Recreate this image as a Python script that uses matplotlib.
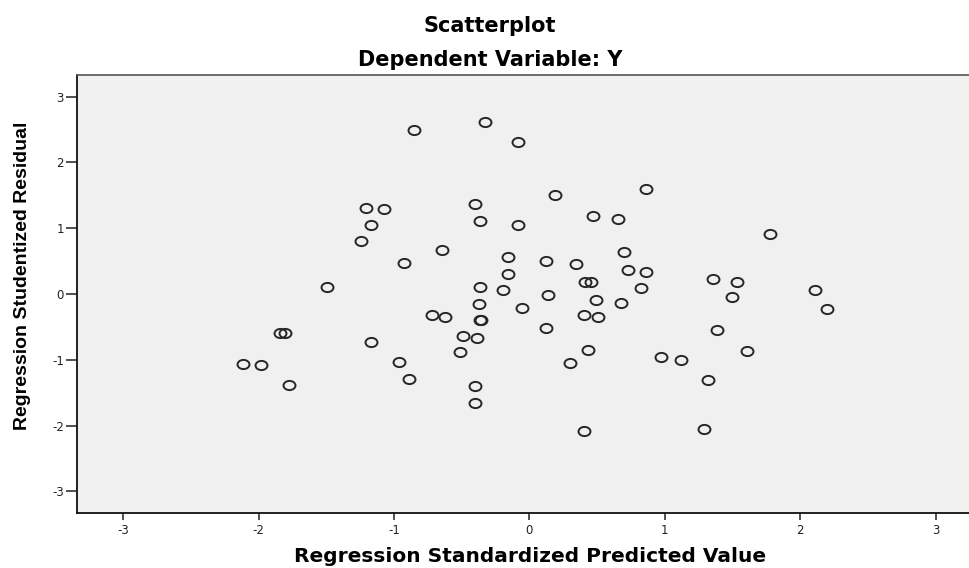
import numpy as np
import matplotlib
matplotlib.use("Agg")
import matplotlib.pyplot as plt
from matplotlib.path import Path

# Regression standardized predicted value (x) and studentized residual (y)
pred = [-0.851, -0.327, -0.081, 0.190, 0.861, -1.207, -1.075, -0.401, -1.170, -1.242,
        -0.364, -0.081, 0.470, 0.655, 1.779, -0.644, -0.927, -0.155, 0.125, 0.345,
        0.699, -0.155, 0.726, 0.861, -1.491, -0.364, -0.192, 0.136, 0.407, 0.452,
        0.822, 1.352, 1.535, 1.498, 2.111, 2.197, -0.371, -0.056, 0.492, 0.677,
        0.406, 0.509, -0.720, -0.620, -0.368, -0.360, -0.494, -0.390, 0.125, -1.845,
        -1.803, -1.173, -0.509, 0.433, 1.385, 1.607, -2.115, -1.980, -0.964, 0.300,
        0.972, 1.117, -1.773, -0.890, -0.401, 1.315, -0.401, 0.406, 1.291]
resid = [2.492, 2.614, 2.304, 1.509, 1.600, 1.312, 1.286, 1.368, 1.043, 0.810,
         1.109, 1.043, 1.190, 1.140, 0.906, 0.669, 0.476, 0.556, 0.495, 0.456,
         0.643, 0.304, 0.359, 0.334, 0.103, 0.103, 0.065, -0.011, 0.182, 0.182,
         0.091, 0.222, 0.184, -0.053, 0.061, -0.223, -0.147, -0.219, -0.091, -0.132,
         -0.319, -0.345, -0.325, -0.350, -0.401, -0.401, -0.634, -0.669, -0.512, -0.593,
         -0.593, -0.729, -0.877, -0.847, -0.547, -0.862, -1.059, -1.079, -1.029, -1.055,
         -0.957, -1.003, -1.378, -1.298, -1.404, -1.302, -1.655, -2.088, -2.059]

xticks = [-3, -2, -1, 0, 1, 2, 3]
yticks = [-3, -2, -1, 0, 1, 2, 3]

W, H = 969, 568
fig = plt.figure(figsize=(W / 100, H / 100), dpi=100)
fig.patch.set_facecolor("white")

left, right, top, bottom = 77, 969, 75, 513
ax = fig.add_axes([left / W, 1 - bottom / H, (right - left) / W, (bottom - top) / H])
ax.set_facecolor("#f0f0f0")

# slightly wide ellipse marker (the reference is horizontally stretched)
uc = Path.unit_circle()
ell = Path(uc.vertices * np.array([1.3, 1.0]), uc.codes)

ax.plot(pred, resid, linestyle="none", marker=ell, markersize=8.6,
        markerfacecolor="none", markeredgecolor="#262626", markeredgewidth=1.4)

ax.set_xlim(-3.34, 3.245)
ax.set_ylim(-3.33, 3.33)
ax.set_xticks(xticks)
ax.set_yticks(yticks)
ax.set_xticklabels([str(t) for t in xticks], fontsize=8.5, family="DejaVu Sans", color="#222222")
ax.set_yticklabels([str(t) for t in yticks], fontsize=8.5, family="DejaVu Sans", color="#222222")
ax.tick_params(axis="x", direction="out", length=5, width=1.1, pad=3, color="#222222")
ax.tick_params(axis="y", direction="out", length=8, width=1.1, pad=1.5, color="#222222")

for s in ["left", "bottom"]:
    ax.spines[s].set_color("#111111")
    ax.spines[s].set_linewidth(1.3)
ax.spines["top"].set_color("#555555")
ax.spines["top"].set_linewidth(1.2)
ax.spines["right"].set_visible(False)

fig.text(490 / W, 1 - 32.5 / H, "Scatterplot", ha="center", va="baseline",
         fontsize=15, fontweight="bold", family="DejaVu Sans")
fig.text(490 / W, 1 - 66 / H, "Dependent Variable: Y", ha="center", va="baseline",
         fontsize=15, fontweight="bold", family="DejaVu Sans")
fig.text(530 / W, 1 - 557 / H, "Regression Standardized Predicted Value", ha="center",
         va="center", fontsize=14.5, fontweight="bold", family="DejaVu Sans")
fig.text(22.5 / W, 1 - 276 / H, "Regression Studentized Residual", ha="center",
         va="center", rotation=90, fontsize=14, fontweight="bold", family="Liberation Sans")

fig.savefig("out.png", dpi=100, facecolor=fig.get_facecolor())
